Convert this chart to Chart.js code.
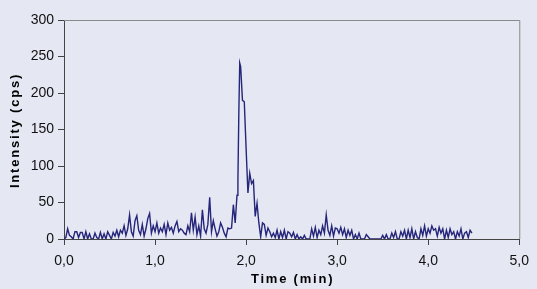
<!DOCTYPE html>
<html>
<head>
<meta charset="utf-8">
<script src="https://cdn.jsdelivr.net/npm/chart.js@4/dist/chart.umd.min.js"></script>
<style>
  html, body { margin: 0; padding: 0; background: #e5e7f3; }
  #wrap { width: 537px; height: 289px; position: relative; }
</style>
</head>
<body>
<div id="wrap"><canvas id="c" width="537" height="289"></canvas></div>
<script>
const xTitle = "Time (min)";
const yTitle = "Intensity (cps)";
const xTicks = [0, 1, 2, 3, 4, 5];
const yTicks = [0, 50, 100, 150, 200, 250, 300];

const times = [
  0.00,0.02,0.04,0.06,0.08,0.10,0.12,0.14,0.16,0.18,
  0.20,0.22,0.24,0.26,0.28,0.30,0.32,0.34,0.36,0.38,
  0.40,0.42,0.44,0.46,0.48,0.50,0.52,0.54,0.56,0.58,
  0.60,0.62,0.64,0.66,0.68,0.70,0.72,0.74,0.76,0.78,
  0.80,0.82,0.84,0.86,0.88,0.90,0.92,0.94,0.96,0.98,
  1.00,1.02,1.04,1.06,1.08,1.10,1.12,1.14,1.16,1.18,
  1.20,1.22,1.24,1.26,1.28,1.30,1.32,1.34,1.36,1.38,
  1.40,1.42,1.44,1.46,1.48,1.50,1.52,1.54,1.56,1.58,
  1.60,1.62,1.64,1.66,1.68,1.70,1.72,1.74,1.76,1.78,
  1.80,1.82,1.84,1.86,1.88,1.90,1.91,1.92,1.93,1.94,1.96,1.98,
  2.00,2.02,2.04,2.06,2.08,2.10,2.12,2.14,2.16,2.18,
  2.20,2.22,2.24,2.26,2.28,2.30,2.32,2.34,2.36,2.38,
  2.40,2.42,2.44,2.46,2.48,2.50,2.52,2.54,2.56,2.58,
  2.60,2.62,2.64,2.66,2.68,2.70,2.72,2.74,2.76,2.78,
  2.80,2.82,2.84,2.86,2.88,2.90,2.92,2.94,2.96,2.98,
  3.00,3.02,3.04,3.06,3.08,3.10,3.12,3.14,3.16,3.18,
  3.20,3.22,3.24,3.26,3.28,3.30,3.32,3.34,3.36,3.38,
  3.40,3.42,3.44,3.46,3.48,3.50,3.52,3.54,3.56,3.58,
  3.60,3.62,3.64,3.66,3.68,3.70,3.72,3.74,3.76,3.78,
  3.80,3.82,3.84,3.86,3.88,3.90,3.92,3.94,3.96,3.98,
  4.00,4.02,4.04,4.06,4.08,4.10,4.12,4.14,4.16,4.18,
  4.20,4.22,4.24,4.26,4.28,4.30,4.32,4.34,4.36,4.38,
  4.40,4.42,4.44,4.46,4.48
];

const intensity = [
  0, 2, 14, 5, 3, 0, 10, 10, 2, 9,
  9, 0, 10, 0, 7, 0, 0, 8, 2, 0,
  9, 0, 7, 0, 10, 5, 0, 9, 4, 12,
  3, 12, 8, 18, 5, 14, 33, 10, 4, 25,
  32, 12, 6, 20, 4, 14, 28, 35, 8, 18,
  10, 22, 8, 15, 10, 20, 6, 22, 12, 16,
  8, 18, 24, 10, 14, 12, 8, 6, 18, 10,
  36, 12, 30, 6, 18, 4, 40, 14, 8, 20,
  57, 10, 25, 14, 4, 10, 22, 16, 8, 3,
  15, 14, 15, 47, 22, 60, 80, 172, 241, 236, 190, 188,
  124, 63, 90, 76, 80, 31, 49, 22, 3, 22,
  20, 5, 15, 10, 3, 8, 2, 12, 0, 10,
  2, 12, 0, 10, 8, 3, 9, 0, 6, 0,
  3, 0, 5, 0, 0, 0, 14, 4, 16, 2,
  12, 6, 18, 8, 33, 12, 5, 18, 4, 15,
  14, 8, 16, 6, 14, 2, 12, 5, 12, 0,
  6, 0, 8, 0, 0, 0, 6, 3, 0, 0,
  0, 0, 0, 0, 0, 5, 0, 6, 0, 0,
  8, 2, 10, 0, 0, 10, 4, 12, 0, 12,
  2, 14, 0, 10, 2, 0, 14, 5, 18, 4,
  14, 8, 18, 12, 14, 4, 16, 8, 14, 0,
  12, 2, 14, 6, 10, 0, 10, 4, 14, 0,
  8, 10, 2, 12, 8
];

const points = times.map((t, i) => ({ x: t, y: intensity[i] }));

const framePlugin = {
  id: 'frame',
  afterDraw(chart) {
    const { ctx, chartArea: a } = chart;
    ctx.save();
    ctx.strokeStyle = '#8a8a8a';
    ctx.lineWidth = 1;
    ctx.beginPath();
    ctx.moveTo(a.left, a.top + 0.5);
    ctx.lineTo(a.right + 0.5, a.top + 0.5);
    ctx.lineTo(a.right + 0.5, a.bottom);
    ctx.stroke();
    ctx.fillStyle = '#000';
    ctx.font = 'bold 13px "Liberation Sans", Arial, sans-serif';
    try { ctx.letterSpacing = '1.8px'; } catch (e) {}
    ctx.textAlign = 'center';
    ctx.textBaseline = 'middle';
    ctx.fillText(xTitle, (a.left + a.right) / 2 + 1, 279);
    ctx.translate(15, (a.top + a.bottom) / 2 + 1);
    ctx.rotate(-Math.PI / 2);
    ctx.fillText(yTitle, 0, 0);
    ctx.restore();
  }
};

new Chart(document.getElementById('c'), {
  type: 'line',
  data: {
    datasets: [{
      data: points,
      borderColor: '#25257a',
      borderWidth: 1.4,
      pointRadius: 0,
      tension: 0,
      fill: false
    }]
  },
  options: {
    responsive: false,
    animation: false,
    events: [],
    layout: { padding: { top: 20, right: 13, left: 0, bottom: 0 } },
    plugins: { legend: { display: false }, tooltip: { enabled: false } },
    scales: {
      x: {
        type: 'linear',
        min: xTicks[0], max: xTicks[xTicks.length - 1],
        afterBuildTicks: s => { s.ticks = xTicks.map(v => ({ value: v })); },
        afterFit: s => { s.height = 50; },
        ticks: {
          color: '#111',
          padding: 8,
          maxRotation: 0,
          font: { family: '"Liberation Sans", Arial, sans-serif', size: 14 },
          callback: v => v.toFixed(1).replace('.', ',')
        },
        grid: { drawOnChartArea: false, tickLength: 6, color: '#444', tickColor: '#444' },
        border: { color: '#444', width: 1 }
      },
      y: {
        min: yTicks[0], max: yTicks[yTicks.length - 1],
        afterBuildTicks: s => { s.ticks = yTicks.map(v => ({ value: v })); },
        afterFit: s => { s.width = 64; },
        ticks: {
          color: '#111',
          padding: 4,
          font: { family: '"Liberation Sans", Arial, sans-serif', size: 14 }
        },
        grid: { drawOnChartArea: false, tickLength: 6, color: '#444', tickColor: '#444' },
        border: { color: '#444', width: 1 }
      }
    }
  },
  plugins: [framePlugin]
});
</script>
</body>
</html>
